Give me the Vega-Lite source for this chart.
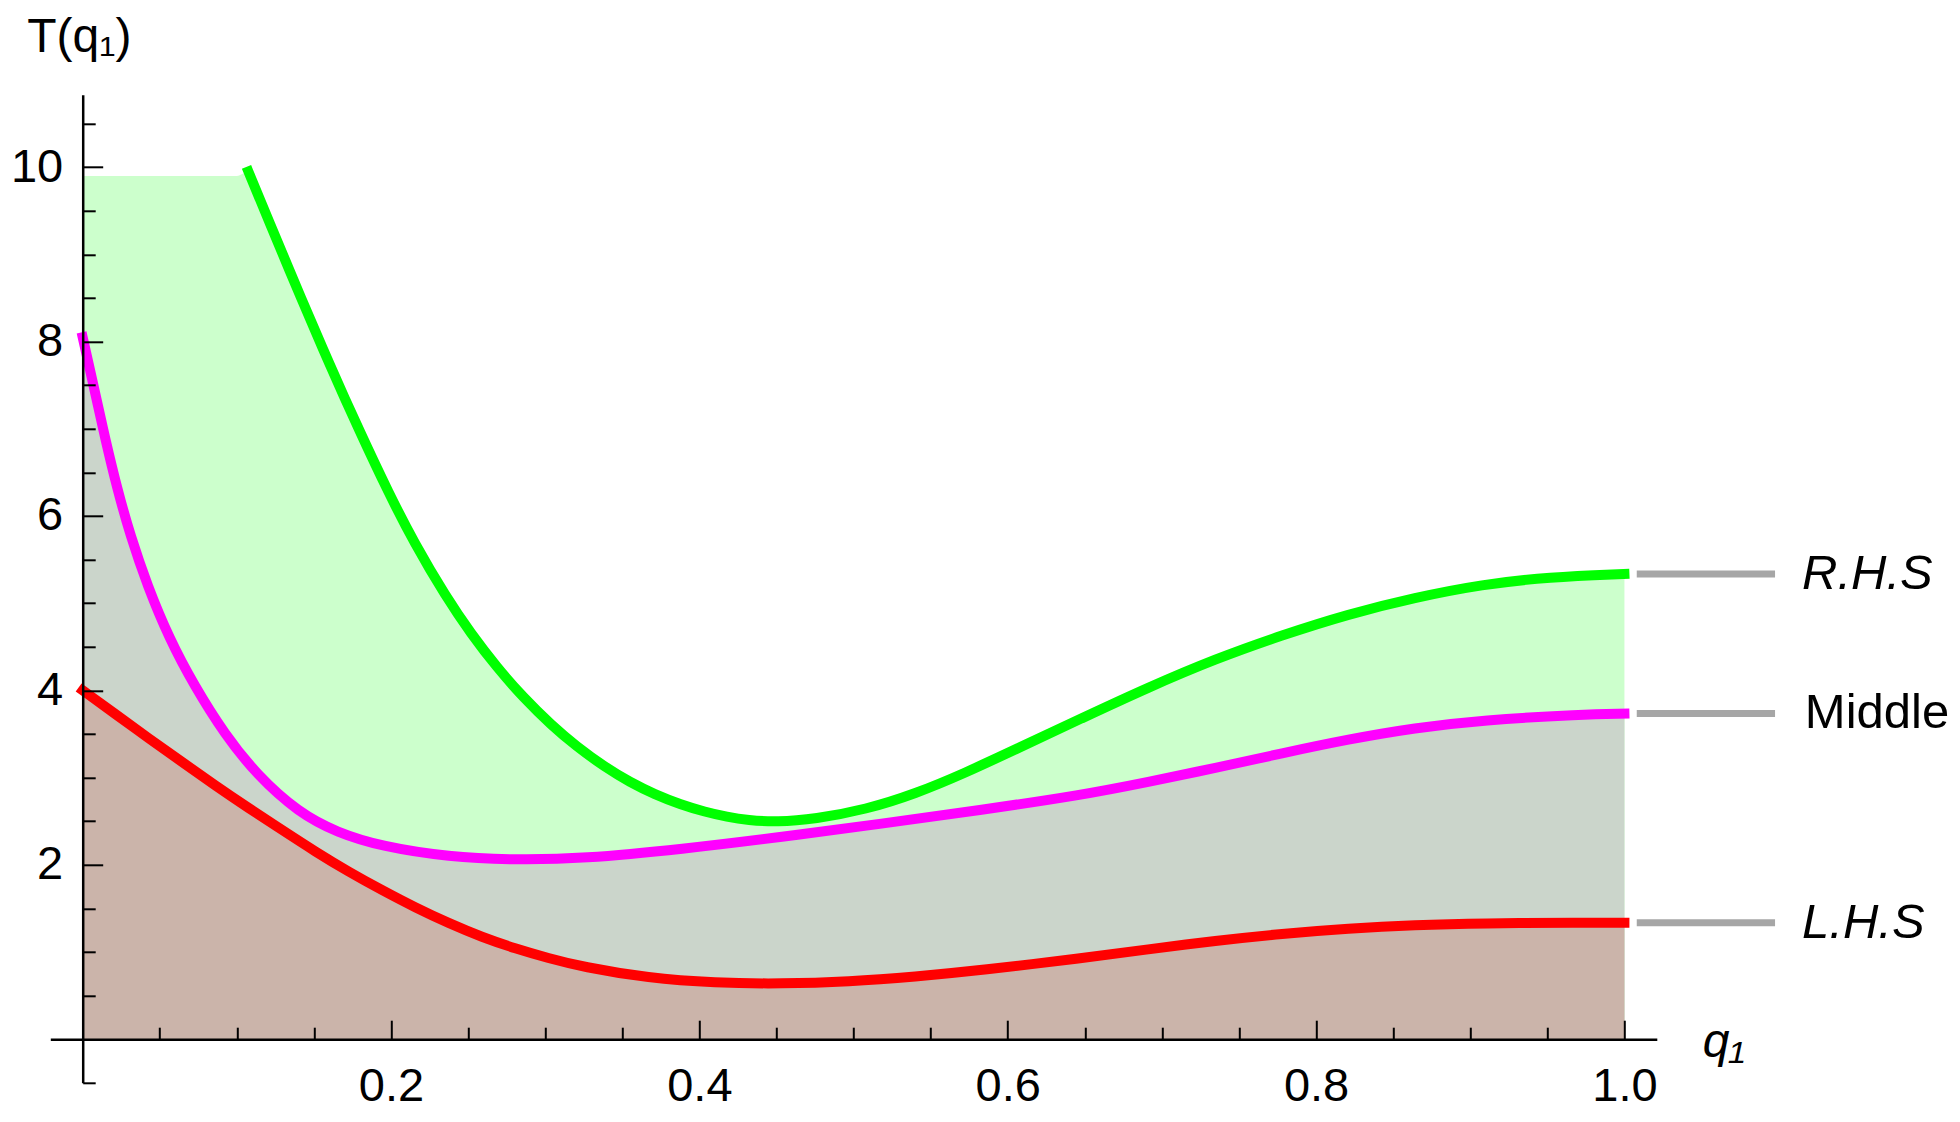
{
  "$schema": "https://vega.github.io/schema/vega-lite/v6.json",
  "width": 1606.5,
  "height": 988,
  "autosize": "none",
  "padding": {"left": 50.3, "top": 94.8, "right": 303.2, "bottom": 39.2},
  "background": "white",
  "config": {"view": {"stroke": null}, "font": "Liberation Sans"},
  "datasets": {
    "curves": [
      {"series": "L.H.S", "q": 0, "T": 4.0},
      {"series": "L.H.S", "q": 0.0212, "T": 3.73},
      {"series": "L.H.S", "q": 0.0428, "T": 3.45},
      {"series": "L.H.S", "q": 0.0644, "T": 3.18},
      {"series": "L.H.S", "q": 0.086, "T": 2.91},
      {"series": "L.H.S", "q": 0.1077, "T": 2.65},
      {"series": "L.H.S", "q": 0.1293, "T": 2.40},
      {"series": "L.H.S", "q": 0.151, "T": 2.15},
      {"series": "L.H.S", "q": 0.1725, "T": 1.92},
      {"series": "L.H.S", "q": 0.194, "T": 1.71},
      {"series": "L.H.S", "q": 0.2157, "T": 1.51},
      {"series": "L.H.S", "q": 0.2374, "T": 1.33},
      {"series": "L.H.S", "q": 0.259, "T": 1.17},
      {"series": "L.H.S", "q": 0.2806, "T": 1.04},
      {"series": "L.H.S", "q": 0.302, "T": 0.93},
      {"series": "L.H.S", "q": 0.324, "T": 0.83},
      {"series": "L.H.S", "q": 0.367, "T": 0.70},
      {"series": "L.H.S", "q": 0.41, "T": 0.645},
      {"series": "L.H.S", "q": 0.4536, "T": 0.635},
      {"series": "L.H.S", "q": 0.497, "T": 0.66},
      {"series": "L.H.S", "q": 0.54, "T": 0.717},
      {"series": "L.H.S", "q": 0.583, "T": 0.79},
      {"series": "L.H.S", "q": 0.648, "T": 0.93},
      {"series": "L.H.S", "q": 0.691, "T": 1.03},
      {"series": "L.H.S", "q": 0.7347, "T": 1.13},
      {"series": "L.H.S", "q": 0.778, "T": 1.21},
      {"series": "L.H.S", "q": 0.821, "T": 1.27},
      {"series": "L.H.S", "q": 0.864, "T": 1.31},
      {"series": "L.H.S", "q": 0.9076, "T": 1.33},
      {"series": "L.H.S", "q": 0.9725, "T": 1.337},
      {"series": "L.H.S", "q": 1.0, "T": 1.335},
      {"series": "Middle", "q": 0, "T": 8.05},
      {"series": "Middle", "q": 0.008, "T": 7.42},
      {"series": "Middle", "q": 0.0147, "T": 6.88},
      {"series": "Middle", "q": 0.0223, "T": 6.32},
      {"series": "Middle", "q": 0.031, "T": 5.77},
      {"series": "Middle", "q": 0.042, "T": 5.2},
      {"series": "Middle", "q": 0.056, "T": 4.6},
      {"series": "Middle", "q": 0.0725, "T": 4.05},
      {"series": "Middle", "q": 0.092, "T": 3.5},
      {"series": "Middle", "q": 0.113, "T": 3.03},
      {"series": "Middle", "q": 0.14, "T": 2.6},
      {"series": "Middle", "q": 0.165, "T": 2.37},
      {"series": "Middle", "q": 0.194, "T": 2.21},
      {"series": "Middle", "q": 0.2374, "T": 2.09},
      {"series": "Middle", "q": 0.2806, "T": 2.055},
      {"series": "Middle", "q": 0.324, "T": 2.07},
      {"series": "Middle", "q": 0.389, "T": 2.18},
      {"series": "Middle", "q": 0.4536, "T": 2.32},
      {"series": "Middle", "q": 0.518, "T": 2.47},
      {"series": "Middle", "q": 0.583, "T": 2.63},
      {"series": "Middle", "q": 0.648, "T": 2.80},
      {"series": "Middle", "q": 0.691, "T": 2.95},
      {"series": "Middle", "q": 0.7347, "T": 3.11},
      {"series": "Middle", "q": 0.778, "T": 3.28},
      {"series": "Middle", "q": 0.821, "T": 3.44},
      {"series": "Middle", "q": 0.864, "T": 3.57},
      {"series": "Middle", "q": 0.9076, "T": 3.66},
      {"series": "Middle", "q": 0.9725, "T": 3.725},
      {"series": "Middle", "q": 1.0, "T": 3.735},
      {"series": "R.H.S", "q": 0.1075, "T": 9.95},
      {"series": "R.H.S", "q": 0.12, "T": 9.415},
      {"series": "R.H.S", "q": 0.1426, "T": 8.458},
      {"series": "R.H.S", "q": 0.16, "T": 7.742},
      {"series": "R.H.S", "q": 0.18, "T": 6.956},
      {"series": "R.H.S", "q": 0.1988, "T": 6.252},
      {"series": "R.H.S", "q": 0.215, "T": 5.693},
      {"series": "R.H.S", "q": 0.2356, "T": 5.074},
      {"series": "R.H.S", "q": 0.252, "T": 4.648},
      {"series": "R.H.S", "q": 0.2685, "T": 4.268},
      {"series": "R.H.S", "q": 0.286, "T": 3.915},
      {"series": "R.H.S", "q": 0.3042, "T": 3.599},
      {"series": "R.H.S", "q": 0.32, "T": 3.362},
      {"series": "R.H.S", "q": 0.3388, "T": 3.12},
      {"series": "R.H.S", "q": 0.355, "T": 2.947},
      {"series": "R.H.S", "q": 0.3712, "T": 2.806},
      {"series": "R.H.S", "q": 0.3875, "T": 2.693},
      {"series": "R.H.S", "q": 0.4037, "T": 2.606},
      {"series": "R.H.S", "q": 0.418, "T": 2.549},
      {"series": "R.H.S", "q": 0.4315, "T": 2.511},
      {"series": "R.H.S", "q": 0.45, "T": 2.49},
      {"series": "R.H.S", "q": 0.475, "T": 2.525},
      {"series": "R.H.S", "q": 0.508, "T": 2.634},
      {"series": "R.H.S", "q": 0.54, "T": 2.813},
      {"series": "R.H.S", "q": 0.5725, "T": 3.054},
      {"series": "R.H.S", "q": 0.605, "T": 3.323},
      {"series": "R.H.S", "q": 0.648, "T": 3.68},
      {"series": "R.H.S", "q": 0.691, "T": 4.033},
      {"series": "R.H.S", "q": 0.7347, "T": 4.361},
      {"series": "R.H.S", "q": 0.778, "T": 4.634},
      {"series": "R.H.S", "q": 0.821, "T": 4.875},
      {"series": "R.H.S", "q": 0.864, "T": 5.064},
      {"series": "R.H.S", "q": 0.9076, "T": 5.215},
      {"series": "R.H.S", "q": 0.951, "T": 5.30},
      {"series": "R.H.S", "q": 1.0, "T": 5.335},
      {"series": "cap", "q": 0, "T": 9.9},
      {"series": "cap", "q": 0.1, "T": 9.9}
    ]
  },
  "data": {"name": "curves"},
  "encoding": {
    "x": {
      "field": "q",
      "type": "quantitative",
      "scale": {"domain": [-0.021, 1.021], "nice": false, "zero": false},
      "axis": {
        "values": [0.05, 0.1, 0.15, 0.2, 0.25, 0.3, 0.35, 0.4, 0.45, 0.5, 0.55, 0.6, 0.65, 0.7, 0.75, 0.8, 0.85, 0.9, 0.95, 1.0],
        "offset": -43.6,
        "zindex": 1,
        "grid": false,
        "domainColor": "black",
        "domainWidth": 2.5,
        "tickColor": "black",
        "tickWidth": 2,
        "tickSize": {"condition": {"test": "abs(datum.value*5 - round(datum.value*5)) < 0.001", "value": -19}, "value": -12},
        "labelExpr": "abs(datum.value*5 - round(datum.value*5)) < 0.001 ? format(datum.value, '.1f') : ''",
        "labelFont": "Liberation Sans",
        "labelFontSize": 47,
        "labelColor": "black",
        "labelPadding": 43,
        "labelFlush": false,
        "labelOverlap": false,
        "labelBound": false,
        "title": "q₁",
        "titleFont": "Liberation Sans",
        "titleFontSize": 48,
        "titleFontStyle": "italic",
        "titleFontWeight": "normal",
        "titleColor": "black",
        "titleAlign": "left",
        "titleBaseline": "alphabetic",
        "titleAnchor": "start",
        "titleX": 1652,
        "titleY": 17
      }
    },
    "y": {
      "field": "T",
      "type": "quantitative",
      "scale": {"domain": [-0.5, 10.83], "nice": false, "zero": false},
      "axis": {
        "values": [-0.5, 0.5, 1, 1.5, 2, 2.5, 3, 3.5, 4, 4.5, 5, 5.5, 6, 6.5, 7, 7.5, 8, 8.5, 9, 9.5, 10, 10.5],
        "offset": -32.4,
        "zindex": 1,
        "grid": false,
        "domainColor": "black",
        "domainWidth": 2.5,
        "tickColor": "black",
        "tickWidth": 2,
        "tickSize": {"condition": {"test": "datum.value > 0 && abs(datum.value/2 - round(datum.value/2)) < 0.001", "value": -20}, "value": -12.5},
        "labelExpr": "datum.value > 0 && abs(datum.value/2 - round(datum.value/2)) < 0.001 ? format(datum.value, 'd') : ''",
        "labelFont": "Liberation Sans",
        "labelFontSize": 47,
        "labelColor": "black",
        "labelPadding": 40,
        "labelFlush": false,
        "labelOverlap": false,
        "labelBound": false,
        "title": "T(q₁)",
        "titleFont": "Liberation Sans",
        "titleFontSize": 48,
        "titleFontWeight": "normal",
        "titleColor": "black",
        "titleAngle": 0,
        "titleAlign": "left",
        "titleBaseline": "alphabetic",
        "titleAnchor": "start",
        "titleX": -56,
        "titleY": -43
      }
    }
  },
  "layer": [
    {
      "transform": [{"filter": {"field": "series", "oneOf": ["R.H.S", "cap"]}}],
      "mark": {"type": "area", "color": "#ccffcc", "interpolate": "monotone"}
    },
    {
      "transform": [{"filter": {"field": "series", "equal": "Middle"}}],
      "mark": {"type": "area", "color": "#cbd5cb", "interpolate": "basis"}
    },
    {
      "transform": [{"filter": {"field": "series", "equal": "L.H.S"}}],
      "mark": {"type": "area", "color": "#cbb4aa", "interpolate": "basis"}
    },
    {
      "transform": [{"filter": {"field": "series", "oneOf": ["L.H.S", "Middle", "R.H.S"]}}],
      "mark": {"type": "line", "strokeWidth": 10, "strokeCap": "square", "interpolate": "basis"},
      "encoding": {
        "color": {
          "field": "series",
          "type": "nominal",
          "scale": {"domain": ["L.H.S", "Middle", "R.H.S"], "range": ["#ff0000", "#ff00ff", "#00ff00"]},
          "legend": null
        }
      }
    },
    {
      "transform": [{"filter": "datum.q >= 1 && datum.series != 'cap'"}],
      "mark": {"type": "rule", "color": "#a6a6a6", "strokeWidth": 7},
      "encoding": {
        "x": {"datum": 1.008},
        "x2": {"datum": 1.0977}
      }
    },
    {
      "transform": [{"filter": "datum.q >= 1 && datum.series != 'cap' && datum.series != 'Middle'"}],
      "mark": {"type": "text", "align": "left", "baseline": "middle", "fontSize": 49, "fontStyle": "italic", "font": "Liberation Sans", "color": "black"},
      "encoding": {
        "x": {"datum": 1.1152},
        "text": {"field": "series"}
      }
    },
    {
      "transform": [{"filter": "datum.q >= 1 && datum.series == 'Middle'"}],
      "mark": {"type": "text", "align": "left", "baseline": "middle", "fontSize": 49, "font": "Liberation Sans", "color": "black"},
      "encoding": {
        "x": {"datum": 1.117},
        "text": {"field": "series"}
      }
    }
  ]
}
